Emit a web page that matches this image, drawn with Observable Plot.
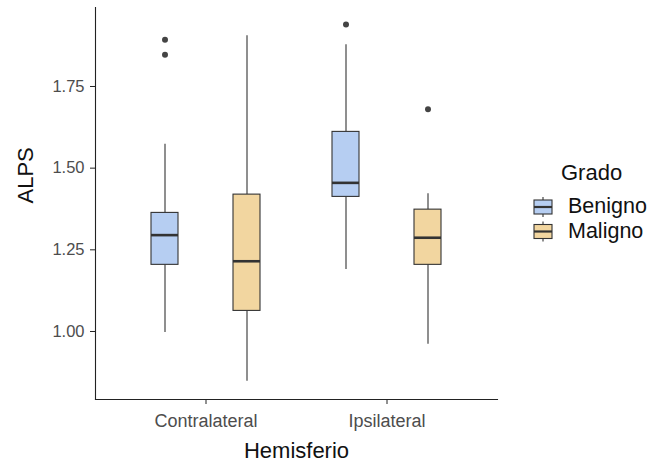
<!DOCTYPE html>
<html><head><meta charset="utf-8">
<script src="https://cdn.jsdelivr.net/npm/d3@7"></script>
<script src="https://cdn.jsdelivr.net/npm/@observablehq/plot@0.6"></script>
<style>
body{margin:0;background:#fff;font-family:"Liberation Sans",Arial,sans-serif}
#wrap{position:relative;width:652px;height:465px;overflow:hidden}
#legend{position:absolute;left:0;top:0}
</style></head><body>
<div id="wrap"><div id="chart"></div><svg id="legend" width="652" height="465"></svg></div>
<script>
const hemisferios = ["Contralateral", "Ipsilateral"];
const grados = ["Benigno", "Maligno"];
const gradoColors = ["#b6cef2", "#f2d6a0"];
const yTicks = [1.00, 1.25, 1.50, 1.75];

// Box statistics per group
const groupHemisferio = ["Contralateral", "Contralateral", "Ipsilateral", "Ipsilateral"];
const groupGrado = ["Benigno", "Maligno", "Benigno", "Maligno"];
const whiskerLow = [0.997, 0.848, 1.190, 0.961];
const q1 = [1.204, 1.063, 1.412, 1.204];
const median = [1.295, 1.215, 1.455, 1.287];
const q3 = [1.363, 1.419, 1.611, 1.373];
const whiskerHigh = [1.573, 1.905, 1.878, 1.422];

// Outliers
const outlierHemisferio = ["Contralateral", "Contralateral", "Ipsilateral", "Ipsilateral"];
const outlierGrado = ["Benigno", "Benigno", "Benigno", "Maligno"];
const outlierValue = [1.893, 1.847, 1.940, 1.680];

const stats = groupHemisferio.map((h, i) => ({
  Hemisferio: h, Grado: groupGrado[i], lo: whiskerLow[i], q1: q1[i],
  med: median[i], q3: q3[i], hi: whiskerHigh[i]
}));
const outliers = outlierHemisferio.map((h, i) => ({Hemisferio: h, Grado: outlierGrado[i], value: outlierValue[i]}));

const dodge = {Benigno: -41, Maligno: 41};
const lineColor = "#333333";
const boxMarks = [];
for (const g of grados) {
  const d = stats.filter(s => s.Grado === g);
  const o = outliers.filter(s => s.Grado === g);
  const dx = dodge[g];
  boxMarks.push(
    Plot.ruleX(d, {x: "Hemisferio", y1: "lo", y2: "q1", dx, stroke: lineColor, strokeWidth: 1.1}),
    Plot.ruleX(d, {x: "Hemisferio", y1: "q3", y2: "hi", dx, stroke: lineColor, strokeWidth: 1.1}),
    Plot.barY(d, {x: "Hemisferio", y1: "q1", y2: "q3", dx, fill: "Grado", stroke: lineColor, strokeWidth: 1.1}),
    Plot.tickY(d, {x: "Hemisferio", y: "med", dx, stroke: lineColor, strokeWidth: 2.6}),
    Plot.dot(o, {x: "Hemisferio", y: "value", dx, r: 3, fill: "#444444", stroke: null})
  );
}

const chart = Plot.plot({
  width: 652, height: 465,
  marginLeft: 95, marginRight: 155, marginTop: 7, marginBottom: 66,
  style: {fontFamily: "'Liberation Sans', Arial, sans-serif", background: "white"},
  x: {domain: hemisferios, paddingInner: 0.85, paddingOuter: 0.53, axis: null},
  y: {domain: [0.7918, 1.9918], axis: null},
  color: {domain: grados, range: gradoColors},
  marks: [
    Plot.frame({anchor: "left", stroke: "#222", strokeWidth: 1.1}),
    Plot.frame({anchor: "bottom", stroke: "#222", strokeWidth: 1.1}),
    Plot.axisY(yTicks, {tickSize: 5, tickPadding: 6, tickFormat: d3.format(".2f"), fontSize: 16.5,
      stroke: "#222", fill: "#4d4d4d", label: null}),
    Plot.axisX({tickSize: 5, tickPadding: 10, fontSize: 18, stroke: "#222", fill: "#4d4d4d", label: null}),
    Plot.text(["ALPS"], {frameAnchor: "left", dx: -70, rotate: -90, fontSize: 22, fill: "#111"}),
    Plot.text(["Hemisferio"], {frameAnchor: "bottom", dy: 58, fontSize: 22, fill: "#111"}),
    ...boxMarks
  ]
});
document.getElementById("chart").appendChild(chart);

// Legend
const lg = d3.select("#legend");
lg.append("text").attr("x", 561).attr("y", 180).attr("font-size", 22).attr("fill", "#111").text("Grado");
grados.forEach((g, i) => {
  const cy = 207 + i * 24.5;
  const gx = 543;
  lg.append("line").attr("x1", gx).attr("x2", gx).attr("y1", cy - 10).attr("y2", cy + 10)
    .attr("stroke", lineColor).attr("stroke-width", 1.1);
  lg.append("rect").attr("x", gx - 9).attr("y", cy - 7).attr("width", 18).attr("height", 14)
    .attr("fill", gradoColors[i]).attr("stroke", lineColor).attr("stroke-width", 1.1);
  lg.append("line").attr("x1", gx - 9).attr("x2", gx + 9).attr("y1", cy).attr("y2", cy)
    .attr("stroke", lineColor).attr("stroke-width", 2.2);
  lg.append("text").attr("x", 568).attr("y", cy + 6).attr("font-size", 21.5).attr("fill", "#111").text(g);
});
</script>
</body></html>
